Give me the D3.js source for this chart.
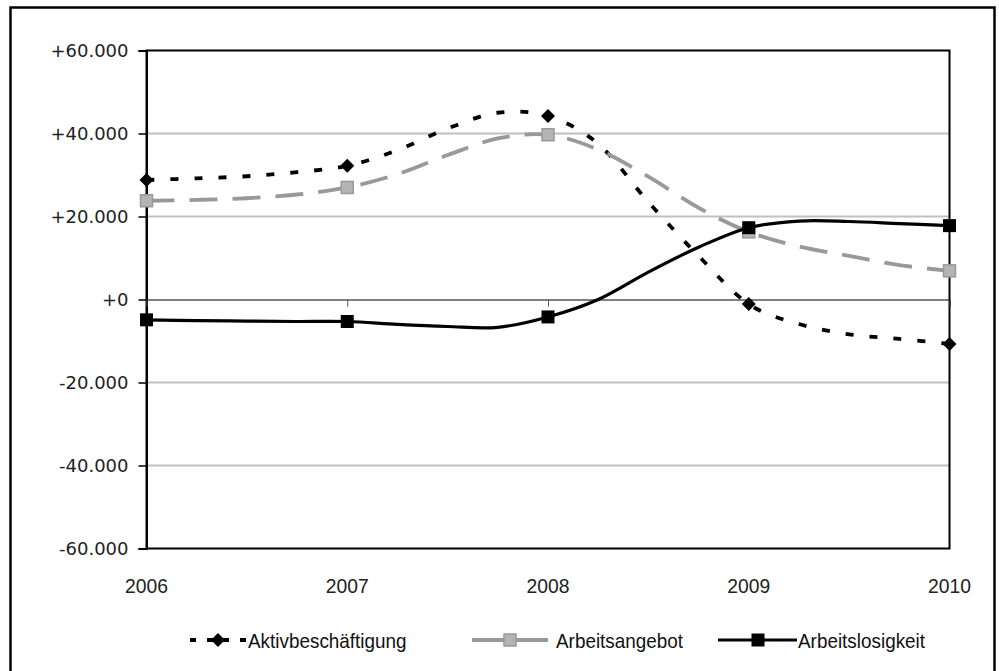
<!DOCTYPE html>
<html><head><meta charset="utf-8">
<script src="https://cdn.jsdelivr.net/npm/d3@7"></script>
<style>body{margin:0;background:#fff}svg{display:block}</style>
</head><body>
<svg id="c" width="999" height="671"></svg>
<script>
const periods = [2006, 2006.25, 2006.5, 2006.75, 2007, 2007.25, 2007.5, 2007.75, 2008, 2008.25, 2008.5, 2008.75, 2009, 2009.25, 2009.5, 2009.75, 2010];
const aktiv = [28800, 29200, 29700, 30700, 32200, 36000, 41200, 45000, 44200, 37500, 23500, 10500, -1100, -5900, -8400, -9500, -10700];
const angebot = [23800, 24000, 24400, 25300, 27000, 30200, 34800, 38800, 39700, 36100, 29600, 22100, 16300, 12800, 10500, 8300, 6900];
const arbeitslos = [-4900, -5100, -5200, -5300, -5300, -6000, -6500, -6700, -4200, 0, 6600, 12600, 17300, 18900, 18800, 18300, 17800];
const years = [2006, 2007, 2008, 2009, 2010];
const yTicks = [-60000, -40000, -20000, 0, 20000, 40000, 60000];
const yTickLabels = ["-60.000", "-40.000", "-20.000", "+0", "+20.000", "+40.000", "+60.000"];
const seriesNames = ["Aktivbeschäftigung", "Arbeitsangebot", "Arbeitslosigkeit"];

const svg = d3.select("#c");
const x = d3.scaleLinear().domain([2006, 2010]).range([146.5, 949.5]);
const y = d3.scaleLinear().domain([-60000, 60000]).range([548.5, 50.5]);

// outer frame
svg.append("rect").attr("x", 10.5).attr("y", 7.5).attr("width", 984).attr("height", 690)
  .attr("fill", "none").attr("stroke", "#000").attr("stroke-width", 2.5);

// gridlines
svg.append("g").selectAll("line").data(yTicks.filter(v => v !== 0 && Math.abs(v) !== 60000)).join("line")
  .attr("x1", x(2006)).attr("x2", x(2010)).attr("y1", d => y(d)).attr("y2", d => y(d))
  .attr("stroke", "#c0c0c0").attr("stroke-width", 2);

// plot border
svg.append("rect").attr("x", x(2006)).attr("y", y(60000)).attr("width", x(2010) - x(2006)).attr("height", y(-60000) - y(60000))
  .attr("fill", "none").attr("stroke", "#000").attr("stroke-width", 2);

// y axis
const yAxis = d3.axisLeft(y).tickValues(yTicks).tickSize(8).tickPadding(10)
  .tickFormat(d => yTickLabels[yTicks.indexOf(d)]);
const gy = svg.append("g").attr("transform", `translate(${x(2006)},0)`).call(yAxis);
gy.select(".domain").attr("stroke", "#000").attr("stroke-width", 2);
gy.selectAll(".tick line").attr("stroke", "#000").attr("stroke-width", 1.5);
gy.selectAll(".tick text").attr("font-family", "DejaVu Sans").attr("font-size", 18).attr("fill", "#222");

// x axis at zero
const xAxis = d3.axisBottom(x).tickValues(years).tickSize(7).tickFormat("");
const gx = svg.append("g").attr("transform", `translate(0,${y(0)})`).call(xAxis);
gx.select(".domain").attr("stroke", "#000").attr("stroke-width", 1.2);
gx.selectAll(".tick line").attr("stroke", "#555").attr("stroke-width", 1);

// x labels at bottom
svg.append("g").selectAll("text").data(years).join("text")
  .attr("transform", d => `translate(${x(d)},593) scale(0.92,1)`).attr("text-anchor", "middle")
  .attr("font-family", "Liberation Sans, Arial").attr("font-size", 21).attr("fill", "#222")
  .text(d => d);

const line = d3.line().x(d => x(d[0])).y(d => y(d[1])).curve(d3.curveCatmullRom.alpha(0));
const styles = [
  {vals: aktiv, color: "#000", width: 3.8, dash: "8,16", legDash: "6,11,22,11,6", marker: "diamond"},
  {vals: angebot, color: "#999", width: 3.8, dash: "28,15", legDash: null, marker: "square-g"},
  {vals: arbeitslos, color: "#000", width: 3.2, dash: null, legDash: null, marker: "square"}
];

function drawMarker(g, type, cx, cy) {
  if (type === "diamond") {
    g.append("path").attr("d", `M${cx},${cy-7}L${cx+7},${cy}L${cx},${cy+7}L${cx-7},${cy}Z`).attr("fill", "#000");
  } else if (type === "square-g") {
    g.append("rect").attr("x", cx-6).attr("y", cy-6).attr("width", 12).attr("height", 12)
      .attr("fill", "#b4b4b4").attr("stroke", "#999").attr("stroke-width", 1.5);
  } else {
    g.append("rect").attr("x", cx-6.5).attr("y", cy-6.5).attr("width", 13).attr("height", 13).attr("fill", "#000");
  }
}

styles.forEach(s => {
  const pts = periods.map((p, i) => [p, s.vals[i]]);
  svg.append("path").datum(pts).attr("d", line).attr("fill", "none")
    .attr("stroke", s.color).attr("stroke-width", s.width)
    .attr("stroke-dasharray", s.dash);
  const g = svg.append("g");
  pts.filter(d => years.includes(d[0])).forEach(d => drawMarker(g, s.marker, x(d[0]), y(d[1])));
});

// legend
const leg = svg.append("g");
const legItems = [
  {lx1: 190, lx2: 246, mx: 218, tx: 248},
  {lx1: 472, lx2: 548, mx: 510, tx: 556},
  {lx1: 718, lx2: 797, mx: 758, tx: 798}
];
legItems.forEach((it, i) => {
  const s = styles[i];
  const ly = 640;
  leg.append("line").attr("x1", it.lx1).attr("x2", it.lx2).attr("y1", ly).attr("y2", ly)
    .attr("stroke", s.color).attr("stroke-width", s.width).attr("stroke-dasharray", s.legDash);
  drawMarker(leg, s.marker, it.mx, ly);
  leg.append("text").attr("transform", `translate(${it.tx},${ly + 7.5}) scale(0.9,1)`)
    .attr("font-family", "Liberation Sans, Arial")
    .attr("font-size", 21).attr("fill", "#111").text(seriesNames[i]);
});
</script>
</body></html>
